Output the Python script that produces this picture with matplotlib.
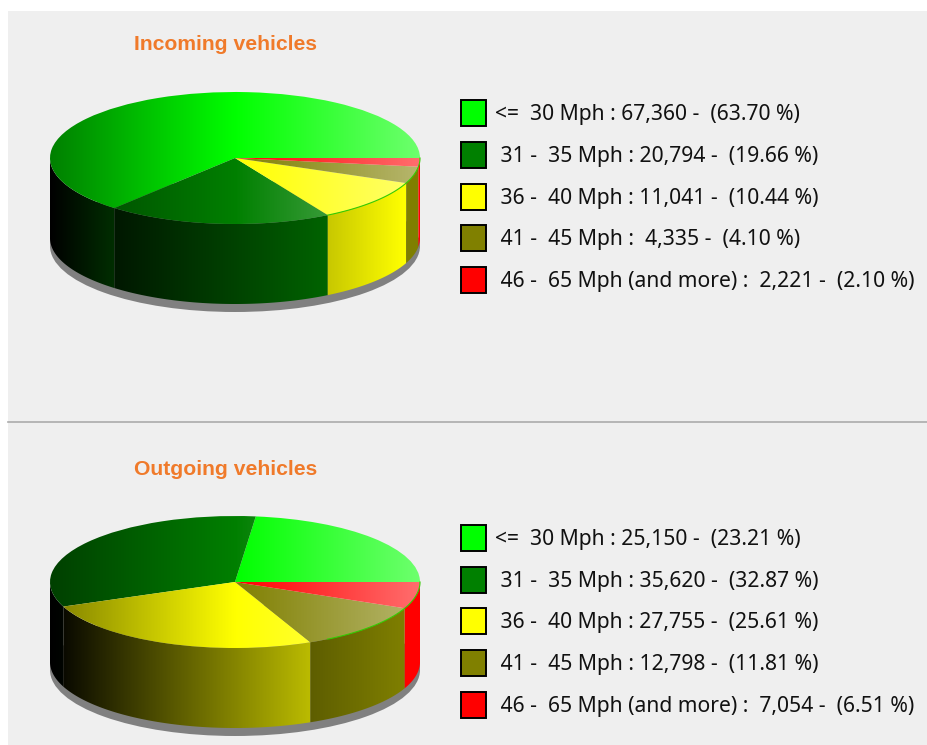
import matplotlib
matplotlib.use('Agg')
import numpy as np
import matplotlib.pyplot as plt
from matplotlib.patches import Wedge, Polygon, Ellipse, Rectangle

W, H = 928, 745
BG = '#EFEFEF'

speed_labels = ['<=  30 Mph', ' 31 -  35 Mph', ' 36 -  40 Mph', ' 41 -  45 Mph', ' 46 -  65 Mph (and more)']
incoming = [67360, 20794, 11041, 4335, 2221]
outgoing = [25150, 35620, 27755, 12798, 7054]
colors = [(0, 1, 0), (0, 0.5, 0), (1, 1, 0), (0.5, 0.5, 0), (1, 0, 0)]

# pixel layout of one panel
RX, RY, DEPTH, SHADOW = 185, 66, 80, 8
CX = 235


def top_shade(col, x):
    col = np.array(col)
    out = np.zeros((1, len(x), 3))
    for i, v in enumerate(x):
        if v < 0:
            out[0, i] = col * (1 + 0.5 * v)
        else:
            out[0, i] = col + (1 - col) * 0.43 * v
    return np.clip(out, 0, 1)


def side_shade(col, x):
    f = np.clip((x + 1) * RX / 355, 0, 1)
    return (np.array(col)[None, :] * f[:, None])[None, :, :]


def draw_pie(fig, values, cy):
    d = DEPTH / RY
    s = SHADOW / RY
    mx = 4 / RX
    my = 4 / RY
    bottom = -1 - d - s - my
    left = (CX - RX * (1 + mx)) / W
    width = 2 * RX * (1 + mx) / W
    top_px = cy - RY * (1 + my)
    height = RY * (1 + my - bottom) / H
    ax = fig.add_axes([left, 1 - top_px / H - height, width, height])
    ax.patch.set_alpha(0)
    ax.axis('off')
    ext = (-1 - mx, 1 + mx, bottom, 1 + my)
    xs = np.linspace(-1 - mx, 1 + mx, 400)

    # shadow under the pie
    ax.add_patch(Ellipse((0, -d - s), 2, 2, fc='#808080', ec='none', zorder=-2))
    ax.add_patch(Rectangle((-1, -d - s), 2, s, fc='#808080', ec='none', zorder=-2))

    angles = np.concatenate([[0], np.cumsum(values) / np.sum(values) * 360])
    for i, col in enumerate(colors):
        a, b = angles[i], angles[i + 1]
        # front wall
        t1, t2 = max(a, 180), min(b, 360)
        if t2 > t1:
            t = np.radians(np.linspace(t1, t2, 80))
            arc_top = np.column_stack([np.cos(t), np.sin(t)])
            arc_low = arc_top[::-1] - [0, d]
            wall = Polygon(np.vstack([arc_top, arc_low]), fc='none', ec='none')
            ax.add_patch(wall)
            im = ax.imshow(side_shade(col, xs), extent=ext, aspect='auto', interpolation='bilinear', zorder=0)
            im.set_clip_path(wall)
        # top face
        wedge = Wedge((0, 0), 1, a, b, fc='none', ec='none')
        ax.add_patch(wedge)
        im = ax.imshow(top_shade(col, xs), extent=ext, aspect='auto', interpolation='bilinear', zorder=1)
        im.set_clip_path(wedge)
    # thin green rim on the front right of the top face
    t = np.radians(np.linspace(300, 360, 60))
    ax.plot(np.cos(t), np.sin(t), color='#33CC00', lw=0.8, zorder=2)
    ax.set_xlim(-1 - mx, 1 + mx)
    ax.set_ylim(bottom, 1 + my)


def draw_legend(ax, values, ys):
    total = sum(values)
    for name, val, col, y in zip(speed_labels, values, colors, ys):
        ax.add_patch(Rectangle((461, y - 13), 25, 26, fc=col, ec='black', lw=1.4))
        label = f'{name} : {val:>6,} -  ({val / total * 100:.2f} %)'
        ax.text(495, y + 1.5, label, fontsize=15.2, family='Noto Sans', color='#111111', va='center', ha='left')


fig = plt.figure(figsize=(W / 100, H / 100), dpi=100, facecolor='white')
bg = fig.add_axes([0, 0, 1, 1])
bg.set_xlim(0, W)
bg.set_ylim(H, 0)
bg.axis('off')
bg.add_patch(Rectangle((8, 11), W, H, fc=BG, ec='none'))
bg.plot([8, W], [422, 422], color='#ABABAB', lw=1.2)

title_font = dict(fontsize=15.2, family='Liberation Sans', fontweight='bold', color='#F07A2A', va='center', ha='left')
bg.text(134, 44.5, 'Incoming vehicles', **title_font)
bg.text(134, 469.5, 'Outgoing vehicles', **title_font)

draw_legend(bg, incoming, [113, 155, 197, 238, 280])
draw_legend(bg, outgoing, [538, 580, 621, 663, 705])

draw_pie(fig, incoming, 158)
draw_pie(fig, outgoing, 582)

fig.savefig('out.png', dpi=100, facecolor='white')
